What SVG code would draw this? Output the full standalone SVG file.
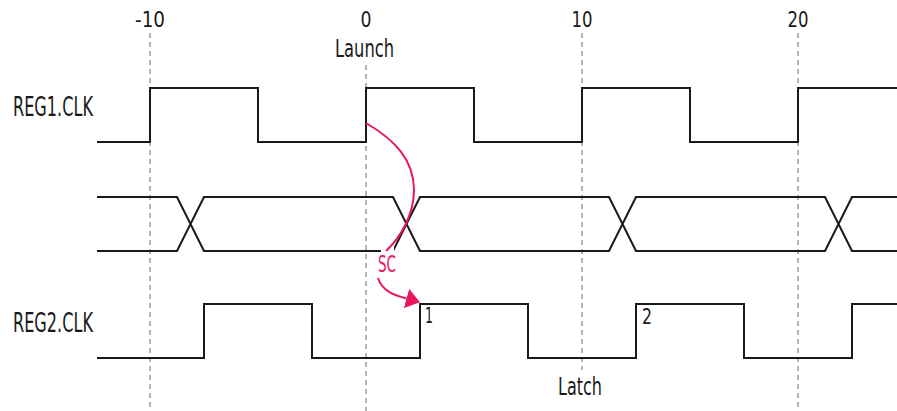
<svg xmlns="http://www.w3.org/2000/svg" width="897" height="411" viewBox="0 0 897 411">
<style>
  .grid { stroke: #9a9a9a; stroke-width: 1.5; stroke-dasharray: 5 4; fill: none; }
  .sig { stroke: #1a1a1a; stroke-width: 2; fill: none; stroke-linejoin: miter; }
  .lbl { font-family: "DejaVu Sans Condensed", "DejaVu Sans", sans-serif; font-stretch: condensed; fill: #1a1a1a; }
  .pink { stroke: #e8175d; stroke-width: 2; fill: none; }
  .pinktxt { font-family: "DejaVu Sans Condensed", "DejaVu Sans", sans-serif; font-stretch: condensed; fill: #e8175d; }
</style>
<defs>
  <marker id="ah" viewBox="0 0 14 20" refX="0" refY="10" markerWidth="14" markerHeight="20" markerUnits="userSpaceOnUse" orient="auto">
    <path d="M0,0 L14,10 L0,20 z" fill="#e8175d"/>
  </marker>
</defs>
<rect width="897" height="411" fill="#ffffff"/>

<g id="gridlines">
  <line class="grid" x1="150" y1="33" x2="150" y2="411"/>
  <line class="grid" x1="366" y1="65" x2="366" y2="411"/>
  <line class="grid" x1="582" y1="33" x2="582" y2="370"/>
  <line class="grid" x1="798" y1="33" x2="798" y2="411"/>
</g>

<g id="time-labels">
  <text class="lbl" x="150" y="27" font-size="22" text-anchor="middle" textLength="30" lengthAdjust="spacingAndGlyphs">-10</text>
  <text class="lbl" x="366" y="27" font-size="22" text-anchor="middle" textLength="11" lengthAdjust="spacingAndGlyphs">0</text>
  <text class="lbl" x="582" y="27" font-size="22" text-anchor="middle" textLength="21" lengthAdjust="spacingAndGlyphs">10</text>
  <text class="lbl" x="798" y="27" font-size="22" text-anchor="middle" textLength="21" lengthAdjust="spacingAndGlyphs">20</text>
  <text class="lbl" x="335" y="57" font-size="24" textLength="59" lengthAdjust="spacingAndGlyphs">Launch</text>
  <text class="lbl" x="558" y="395" font-size="24" textLength="44" lengthAdjust="spacingAndGlyphs">Latch</text>
</g>

<g id="reg1-clk">
  <text class="lbl" x="13" y="116" font-size="26" textLength="80" lengthAdjust="spacingAndGlyphs">REG1.CLK</text>
  <path class="sig" d="M97,142 H150 V88 H258 V142 H366 V88 H474 V142 H582 V88 H690 V142 H798 V88 H897"/>
</g>

<g id="data">
  <path class="sig" d="M97,197 H177 L204,251 H393 L420,197 H609 L636,251 H825 L852,197 H897"/>
  <path class="sig" d="M97,251 H177 L204,197 H393 L420,251 H609 L636,197 H825 L852,251 H897"/>
</g>

<g id="reg2-clk">
  <text class="lbl" x="13" y="332" font-size="26" textLength="80" lengthAdjust="spacingAndGlyphs">REG2.CLK</text>
  <path class="sig" d="M97,358 H204 V304 H312 V358 H420 V304 H528 V358 H636 V304 H744 V358 H852 V304 H897"/>
  <text class="lbl" x="425" y="323" font-size="22" textLength="8" lengthAdjust="spacingAndGlyphs">1</text>
  <text class="lbl" x="642" y="324" font-size="22" textLength="10" lengthAdjust="spacingAndGlyphs">2</text>
</g>

<g id="connectors">
  <rect x="381" y="246" width="13" height="6" fill="#ffffff"/>
  <path class="pink" d="M366,123 C395,140 414,160 414,190 C414,215 400,238 386,251"/>
  <text class="pinktxt" x="378" y="272" font-size="23" textLength="18" lengthAdjust="spacingAndGlyphs">SC</text>
  <path class="pink" d="M378,278 C382,291 394,295 406.5,298.5" marker-end="url(#ah)"/>
</g>
</svg>
